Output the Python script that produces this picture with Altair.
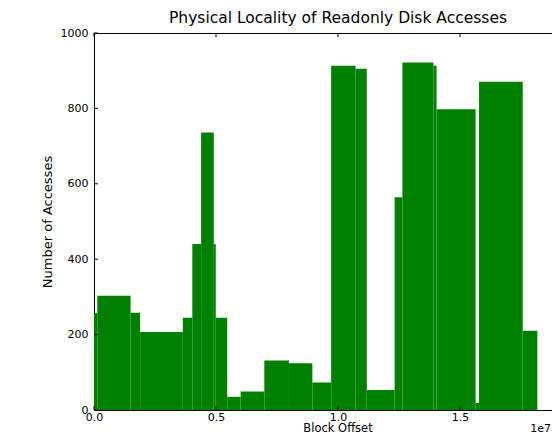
import altair as alt
import pandas as pd

# Histogram bin edges (block offset, in units of 1e7) and counts per bin
edges = [0.0, 0.0135, 0.150, 0.189, 0.364, 0.403, 0.439, 0.491, 0.499, 0.546,
         0.601, 0.698, 0.799, 0.895, 0.972, 1.072, 1.118, 1.232, 1.264, 1.391,
         1.404, 1.564, 1.578, 1.757, 1.817]
counts = [257, 303, 258, 207, 245, 440, 736, 440, 245, 35, 49, 131, 124, 73,
          913, 905, 53, 564, 922, 913, 798, 19, 871, 210]

x_ticks = [0.0, 0.5, 1.0, 1.5]
y_ticks = [0, 200, 400, 600, 800, 1000]

# plot area is cut by the window's right edge (the full axis would run to 2.0)
W, H = 458, 377
FULL_W = 488
X_MAX = 2.0 * W / FULL_W
FONT = "DejaVu Sans"
GREEN = "#008000"

bars_df = pd.DataFrame({"x0": edges[:-1], "x1": edges[1:], "count": counts})
xt_df = pd.DataFrame({"t": x_ticks})
yt_df = pd.DataFrame({"t": y_ticks})

xscale = alt.Scale(domain=[0, X_MAX], nice=False, zero=False)
yscale = alt.Scale(domain=[0, 1000], nice=False)

bars = alt.Chart(bars_df).mark_rect(color=GREEN, clip=True).encode(
    x=alt.X("x0:Q", scale=xscale,
            axis=alt.Axis(values=x_ticks, format=".1f", title=None,
                          labelPadding=1, labelFlush=False)),
    x2="x1:Q",
    y=alt.Y("count:Q", scale=yscale,
            axis=alt.Axis(values=y_ticks, format="d", title="Number of Accesses",
                          labelPadding=6, titlePadding=6, labelFlush=False)),
    y2=alt.datum(0),
)

tick_bottom = alt.Chart(xt_df).mark_rule(color="black", strokeWidth=1).encode(
    x=alt.X("t:Q", scale=xscale), y=alt.value(H), y2=alt.value(H - 4))
tick_top = alt.Chart(xt_df).mark_rule(color="black", strokeWidth=1).encode(
    x=alt.X("t:Q", scale=xscale), y=alt.value(0), y2=alt.value(4))
tick_left = alt.Chart(yt_df).mark_rule(color="black", strokeWidth=1).encode(
    y=alt.Y("t:Q", scale=yscale), x=alt.value(0), x2=alt.value(4))

texts_df = pd.DataFrame({
    "s": ["Physical Locality of Readonly Disk Accesses", "Block Offset", "1e7"],
})
title_txt = alt.Chart(texts_df.iloc[[0]]).mark_text(
    font=FONT, fontSize=15.5, align="center", baseline="middle", color="black"
).encode(x=alt.value(FULL_W / 2), y=alt.value(-15), text="s:N")
xtitle_txt = alt.Chart(texts_df.iloc[[1]]).mark_text(
    font=FONT, fontSize=11.5, align="center", baseline="alphabetic", color="black"
).encode(x=alt.value(FULL_W / 2), y=alt.value(H + 22), text="s:N")
offset_txt = alt.Chart(texts_df.iloc[[2]]).mark_text(
    font=FONT, fontSize=11, align="right", baseline="alphabetic", color="black"
).encode(x=alt.value(W - 1), y=alt.value(H + 22), text="s:N")

chart = alt.layer(bars, tick_bottom, tick_top, tick_left,
                  title_txt, xtitle_txt, offset_txt).properties(
    width=W, height=H,
    autosize=alt.AutoSizeParams(type="none"),
    padding={"left": 86, "top": 25, "right": 0, "bottom": 24},
).configure_view(stroke="black", strokeWidth=1).configure_axis(
    grid=False, domain=False, ticks=False,
    labelFont=FONT, labelFontSize=11, labelColor="black",
    titleFont=FONT, titleFontSize=13, titleFontWeight="normal", titleColor="black",
)

chart.save("out.html", embed_options={"renderer": "svg", "actions": False})
